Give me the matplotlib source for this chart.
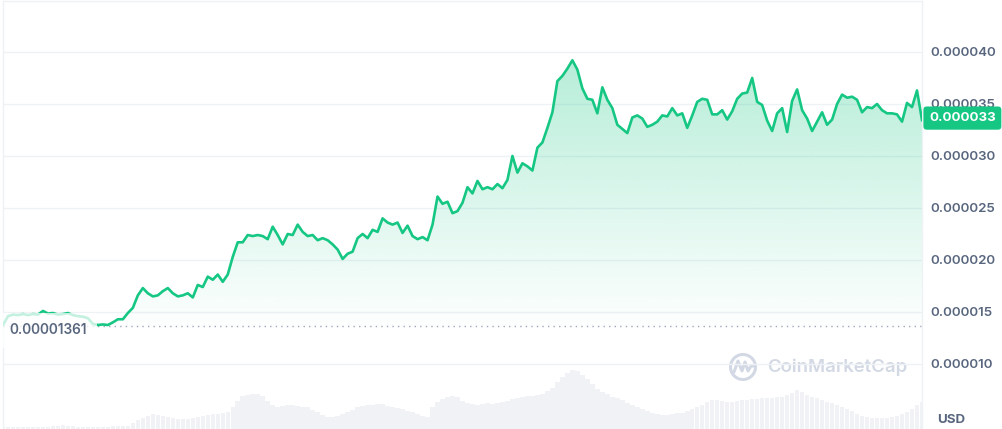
import numpy as np
import matplotlib
matplotlib.use("Agg")
import matplotlib.pyplot as plt
import matplotlib.transforms as mtransforms
from matplotlib.patches import Circle
from matplotlib.lines import Line2D

plt.rcParams['font.family'] = ['Inter', 'DejaVu Sans']

#**************************************************#
# data (price in 1e-6 USD, volume in arbitrary units)

price = [
    13.75, 14.6, 14.75, 14.7, 14.8, 14.7, 14.8, 14.75, 15.1, 14.85,
    14.9, 14.75, 14.8, 14.9, 14.7, 14.6, 14.55, 14.4, 13.85, 13.75,
    13.8, 13.75, 14.0, 14.3, 14.3, 14.9, 15.4, 16.6, 17.3, 16.8,
    16.5, 16.6, 17.0, 17.3, 16.8, 16.5, 16.6, 16.8, 16.4, 17.6,
    17.4, 18.4, 18.1, 18.6, 17.9, 18.6, 20.3, 21.7, 21.7, 22.4,
    22.3, 22.4, 22.3, 22.0, 23.2, 22.4, 21.5, 22.5, 22.4, 23.4,
    22.7, 22.3, 22.4, 21.9, 22.1, 21.9, 21.5, 21.0, 20.1, 20.6,
    20.8, 22.1, 22.5, 22.1, 22.9, 22.7, 24.0, 23.6, 23.4, 23.6,
    22.6, 23.3, 22.3, 22.0, 22.2, 21.9, 23.4, 26.1, 25.4, 25.6,
    24.5, 24.7, 25.5, 27.0, 26.4, 27.6, 26.8, 27.0, 26.8, 27.3,
    26.9, 27.7, 30.0, 28.4, 29.3, 29.0, 28.6, 30.8, 31.3, 32.7,
    34.2, 37.2, 37.7, 38.4, 39.2, 38.3, 36.5, 35.5, 35.4, 34.1,
    36.6, 35.4, 34.6, 33.0, 32.6, 32.2, 33.7, 33.9, 33.6, 32.8,
    33.0, 33.3, 33.9, 33.8, 34.6, 33.9, 34.1, 32.7, 33.9, 35.2,
    35.5, 35.4, 34.0, 34.0, 34.4, 33.5, 34.3, 35.5, 36.0, 36.1,
    37.5, 35.2, 34.9, 33.4, 32.4, 34.1, 34.6, 32.3, 35.3, 36.4,
    34.4, 33.6, 32.4, 33.3, 34.2, 33.0, 33.5, 35.0, 35.9, 35.6,
    35.7, 35.4, 34.2, 34.7, 34.6, 35.0, 34.4, 34.1, 34.1, 34.0,
    33.3, 35.1, 34.7, 36.3, 33.45,
]

volume = [
    2, 2, 2, 2, 2, 2, 2, 2, 2, 2,
    3, 3, 4, 3, 3, 2, 2, 2, 2, 2,
    2, 2, 3, 3, 3, 3, 6, 9, 11, 13,
    15, 14, 13, 12, 11, 10, 10, 10, 11, 12,
    13, 14, 15, 15, 16, 17, 22, 28, 33, 34,
    35, 35, 33, 28, 24, 22, 23, 24, 24, 23,
    22, 22, 19, 17, 14, 12, 12, 13, 15, 17,
    19, 22, 23, 24, 24, 25, 25, 23, 22, 21,
    20, 18, 17, 15, 13, 12, 22, 27, 30, 32,
    33, 32, 28, 26, 25, 24, 25, 26, 25, 26,
    27, 28, 30, 31, 32, 33, 33, 34, 35, 38,
    41, 47, 52, 56, 59, 58, 54, 50, 45, 40,
    37, 35, 32, 31, 29, 26, 24, 22, 20, 18,
    16, 15, 14, 14, 15, 16, 16, 18, 20, 22,
    24, 27, 29, 29, 28, 27, 27, 28, 29, 29,
    30, 30, 31, 31, 31, 32, 32, 34, 36, 39,
    37, 34, 32, 31, 29, 27, 26, 24, 22, 20,
    18, 15, 13, 12, 11, 11, 11, 11, 12, 13,
    15, 17, 20, 24, 27,
]

open_price = 13.61e-6
price_ticks = [10e-6, 15e-6, 20e-6, 25e-6, 30e-6, 35e-6, 40e-6]

prices = np.array(price) * 1e-6
x = np.arange(len(prices))

GREEN = '#16c784'
TEXT = '#58667e'
GRID = '#eff2f5'

#**************************************************#
# figure and axes

W, H = 1002, 429
fig = plt.figure(figsize=(W / 100, H / 100), dpi=100)
left, width = 3 / W, 919 / W

# volume axes at the bottom
vax = fig.add_axes([left, 0, width, 60 / H], zorder=0)
vax.bar(x, volume, width=0.9, color='#f0f2f6', linewidth=0)
vax.set_xlim(0, len(x) - 1)
vax.set_ylim(0, 60)
vax.axis('off')

ax = fig.add_axes([left, 0, width, 428 / H], zorder=1)
ax.set_facecolor('none')

ylo, yhi = 3.75e-6, 44.9e-6

# gradient fill under the line
grad_y = np.linspace(ylo, yhi, 300)
grad = np.zeros((300, 1, 4))
grad[:, 0, 0] = 22 / 255
grad[:, 0, 1] = 199 / 255
grad[:, 0, 2] = 132 / 255
grad[:, 0, 3] = np.clip((grad_y - 13e-6) / 27e-6, 0, 1) * 0.32
img = ax.imshow(grad, extent=[0, len(x) - 1, ylo, yhi], origin='lower',
                aspect='auto', zorder=1, interpolation='bilinear')
poly = ax.fill_between(x, prices, ylo, color='none', linewidth=0)
img.set_clip_path(poly.get_paths()[0], ax.transData)

# price line
ax.plot(x, prices, color=GREEN, lw=1.9, zorder=3, solid_joinstyle='round')

# dotted open price line
ax.axhline(open_price, color='#a1a7bb', lw=1, ls=(0, (1, 3)), zorder=2)

ax.set_xlim(0, len(x) - 1)
ax.set_ylim(ylo, yhi)

# axes styling
for s in ['top', 'left', 'right']:
    ax.spines[s].set_color(GRID)
    ax.spines[s].set_linewidth(1)
ax.spines['bottom'].set_visible(False)
ax.set_xticks([])
ax.yaxis.tick_right()
ax.set_yticks(price_ticks)
ax.set_yticklabels(['{:.6f}'.format(v) for v in price_ticks])
ax.tick_params(axis='y', length=0, pad=6, labelsize=9.6, labelcolor=TEXT)
for lab in ax.get_yticklabels():
    lab.set_fontweight('semibold')
ax.grid(axis='y', color=GRID, lw=1, zorder=0)
ax.set_axisbelow(True)

#**************************************************#
# labels

trans = mtransforms.blended_transform_factory(ax.transAxes, ax.transData)

# current price tag
ax.annotate('{:.6f}'.format(round(prices[-1], 6)), xy=(1, prices[-1]), xycoords=trans,
            xytext=(7, 2), textcoords='offset pixels', ha='left', va='center',
            fontsize=9.6, fontweight='bold', color='white', zorder=10,
            annotation_clip=False,
            bbox=dict(boxstyle='round,pad=0.42,rounding_size=0.25', fc=GREEN, ec='none'))

# open price label
ax.annotate('{:.8f}'.format(open_price), xy=(0, open_price), xycoords=trans,
            xytext=(6, -4), textcoords='offset pixels', ha='left', va='center',
            fontsize=9.8, fontweight='semibold', color=TEXT, zorder=5,
            bbox=dict(boxstyle='square,pad=0.75', fc='white', ec='none', alpha=0.75))

# currency
fig.text(937 / W, 1 - 420 / H, 'USD', ha='left', va='center', fontsize=9.6,
         fontweight='bold', color=TEXT)

# watermark
wm = '#d3d9e4'
fig.text(767 / W, 1 - 367 / H, 'CoinMarketCap', ha='left', va='center',
         fontsize=13.4, fontweight='semibold', color=wm, zorder=0)
fig.add_artist(Circle((743, H - 367), 12.5, transform=None, fill=False,
                      ec=wm, lw=2.2, zorder=0))
fig.add_artist(Line2D([734, 738, 742, 745, 748, 751, 754],
                      [H - 372, H - 361, H - 371, H - 362, H - 371, H - 366, H - 366],
                      transform=None, color=wm, lw=2.2, zorder=0,
                      solid_joinstyle='round', solid_capstyle='round'))

fig.savefig('out.png', dpi=100)
